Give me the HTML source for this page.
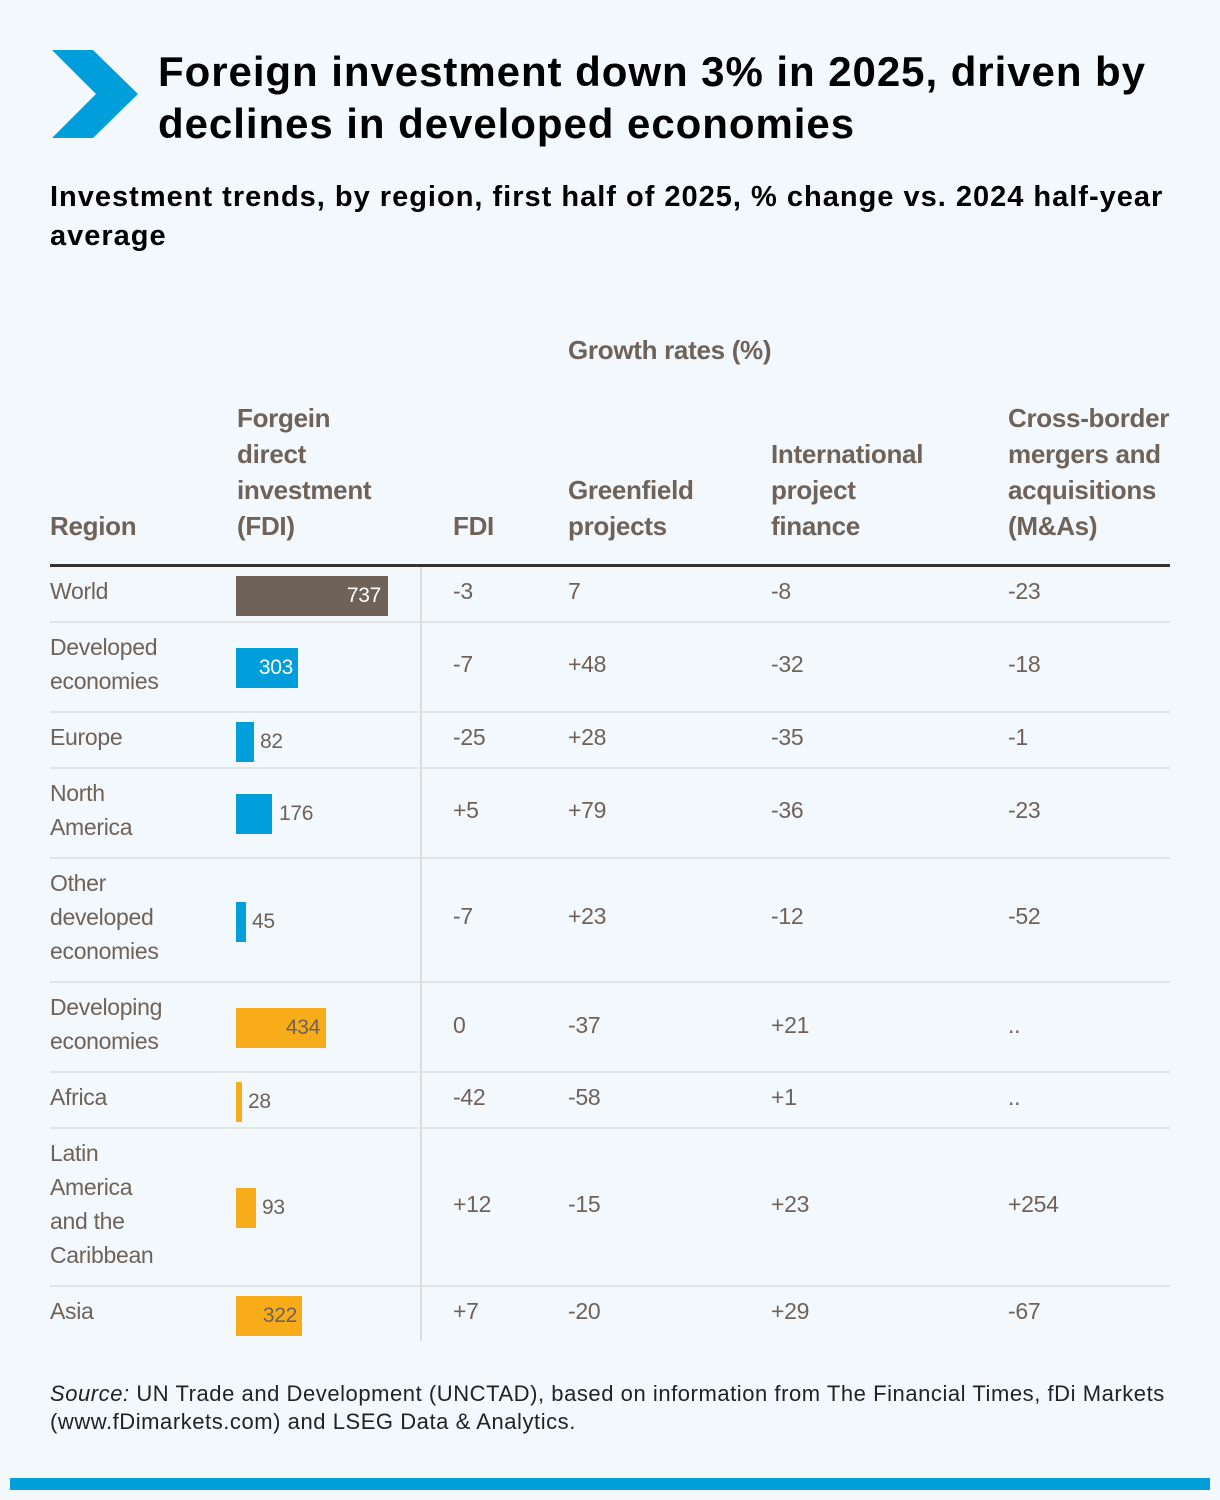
<!DOCTYPE html>
<html><head><meta charset="utf-8">
<style>
*{margin:0;padding:0;box-sizing:border-box}
body{width:1220px;height:1500px;background:#f3f8fc;position:relative;overflow:hidden;font-family:"Liberation Sans",sans-serif;}
.t{position:absolute;white-space:nowrap}
.title{left:158px;top:46px;font-size:42px;font-weight:bold;line-height:52px;color:#000;letter-spacing:0.95px}
.sub{left:50px;top:178px;font-size:29px;line-height:39px;color:#000;font-weight:bold;letter-spacing:1.0px}
.h{font-weight:bold;font-size:26px;line-height:36px;color:#6e6259;letter-spacing:-0.3px}
.cell{position:absolute;font-size:23px;line-height:34px;color:#6e6259;white-space:nowrap;letter-spacing:-0.3px}
.bar{position:absolute;left:236px;height:40px;font-size:21px;line-height:40px;color:#6e6259;letter-spacing:-0.3px}
.sep{position:absolute;left:50px;width:1120px;height:2px;background:#e2e4e8}
</style></head><body>
<svg style="position:absolute;left:50px;top:50px" width="90" height="90"><polygon points="2,0 43,0 88,44 43,88 2,88 46,44" fill="#009edb"/></svg>
<div class="t title">Foreign investment down 3% in 2025, driven by<br>declines in developed economies</div>
<div class="t sub">Investment trends, by region, first half of 2025, % change vs. 2024 half-year<br>average</div>

<div class="t h" style="left:568px;top:332px">Growth rates (%)</div>
<div class="t h" style="left:50px;top:508px">Region</div>
<div class="t h" style="left:237px;top:400px">Forgein<br>direct<br>investment<br>(FDI)</div>
<div class="t h" style="left:453px;top:508px">FDI</div>
<div class="t h" style="left:568px;top:472px">Greenfield<br>projects</div>
<div class="t h" style="left:771px;top:436px">International<br>project<br>finance</div>
<div class="t h" style="left:1008px;top:400px">Cross-border<br>mergers and<br>acquisitions<br>(M&amp;As)</div>

<div style="position:absolute;left:50px;top:564px;width:1120px;height:3px;background:#333"></div>
<div style="position:absolute;left:420px;top:567px;width:2px;height:774px;background:#dcdcdc"></div>

<div class="sep" style="top:621px"></div>
<div class="sep" style="top:711px"></div>
<div class="sep" style="top:767px"></div>
<div class="sep" style="top:857px"></div>
<div class="sep" style="top:981px"></div>
<div class="sep" style="top:1071px"></div>
<div class="sep" style="top:1127px"></div>
<div class="sep" style="top:1285px"></div>

<div class="cell" style="left:50px;top:574px">World</div>
<div class="bar" style="top:576px;width:152px;background:#6e6259;color:#fff;text-align:right;padding-right:7px">737</div>
<div class="cell" style="left:453px;top:574px">-3</div>
<div class="cell" style="left:568px;top:574px">7</div>
<div class="cell" style="left:771px;top:574px">-8</div>
<div class="cell" style="left:1008px;top:574px">-23</div>

<div class="cell" style="left:50px;top:630px">Developed<br>economies</div>
<div class="bar" style="top:648px;width:62px;background:#009edb;color:#fff;text-align:right;padding-right:5px">303</div>
<div class="cell" style="left:453px;top:647px">-7</div>
<div class="cell" style="left:568px;top:647px">+48</div>
<div class="cell" style="left:771px;top:647px">-32</div>
<div class="cell" style="left:1008px;top:647px">-18</div>

<div class="cell" style="left:50px;top:720px">Europe</div>
<div class="bar" style="top:722px;width:18px;background:#009edb"></div>
<div class="bar" style="top:722px;left:260px">82</div>
<div class="cell" style="left:453px;top:720px">-25</div>
<div class="cell" style="left:568px;top:720px">+28</div>
<div class="cell" style="left:771px;top:720px">-35</div>
<div class="cell" style="left:1008px;top:720px">-1</div>

<div class="cell" style="left:50px;top:776px">North<br>America</div>
<div class="bar" style="top:794px;width:36px;background:#009edb"></div>
<div class="bar" style="top:794px;left:279px">176</div>
<div class="cell" style="left:453px;top:793px">+5</div>
<div class="cell" style="left:568px;top:793px">+79</div>
<div class="cell" style="left:771px;top:793px">-36</div>
<div class="cell" style="left:1008px;top:793px">-23</div>

<div class="cell" style="left:50px;top:866px">Other<br>developed<br>economies</div>
<div class="bar" style="top:902px;width:10px;background:#009edb"></div>
<div class="bar" style="top:902px;left:252px">45</div>
<div class="cell" style="left:453px;top:899px">-7</div>
<div class="cell" style="left:568px;top:899px">+23</div>
<div class="cell" style="left:771px;top:899px">-12</div>
<div class="cell" style="left:1008px;top:899px">-52</div>

<div class="cell" style="left:50px;top:990px">Developing<br>economies</div>
<div class="bar" style="top:1008px;width:90px;background:#f9ac19;text-align:right;padding-right:6px">434</div>
<div class="cell" style="left:453px;top:1008px">0</div>
<div class="cell" style="left:568px;top:1008px">-37</div>
<div class="cell" style="left:771px;top:1008px">+21</div>
<div class="cell" style="left:1008px;top:1008px">..</div>

<div class="cell" style="left:50px;top:1080px">Africa</div>
<div class="bar" style="top:1082px;width:6px;background:#f9ac19"></div>
<div class="bar" style="top:1082px;left:248px">28</div>
<div class="cell" style="left:453px;top:1080px">-42</div>
<div class="cell" style="left:568px;top:1080px">-58</div>
<div class="cell" style="left:771px;top:1080px">+1</div>
<div class="cell" style="left:1008px;top:1080px">..</div>

<div class="cell" style="left:50px;top:1136px">Latin<br>America<br>and the<br>Caribbean</div>
<div class="bar" style="top:1188px;width:20px;background:#f9ac19"></div>
<div class="bar" style="top:1188px;left:262px">93</div>
<div class="cell" style="left:453px;top:1187px">+12</div>
<div class="cell" style="left:568px;top:1187px">-15</div>
<div class="cell" style="left:771px;top:1187px">+23</div>
<div class="cell" style="left:1008px;top:1187px">+254</div>

<div class="cell" style="left:50px;top:1294px">Asia</div>
<div class="bar" style="top:1296px;width:66px;background:#f9ac19;text-align:right;padding-right:5px">322</div>
<div class="cell" style="left:453px;top:1294px">+7</div>
<div class="cell" style="left:568px;top:1294px">-20</div>
<div class="cell" style="left:771px;top:1294px">+29</div>
<div class="cell" style="left:1008px;top:1294px">-67</div>

<div class="t" style="left:50px;top:1380px;font-size:22px;line-height:28px;color:#222;letter-spacing:0.55px"><i>Source:</i> UN Trade and Development (UNCTAD), based on information from The Financial Times, fDi Markets<br>(www.fDimarkets.com) and LSEG Data &amp; Analytics.</div>

<div style="position:absolute;left:10px;top:1478px;width:1200px;height:12px;background:#009edb"></div>
</body></html>
